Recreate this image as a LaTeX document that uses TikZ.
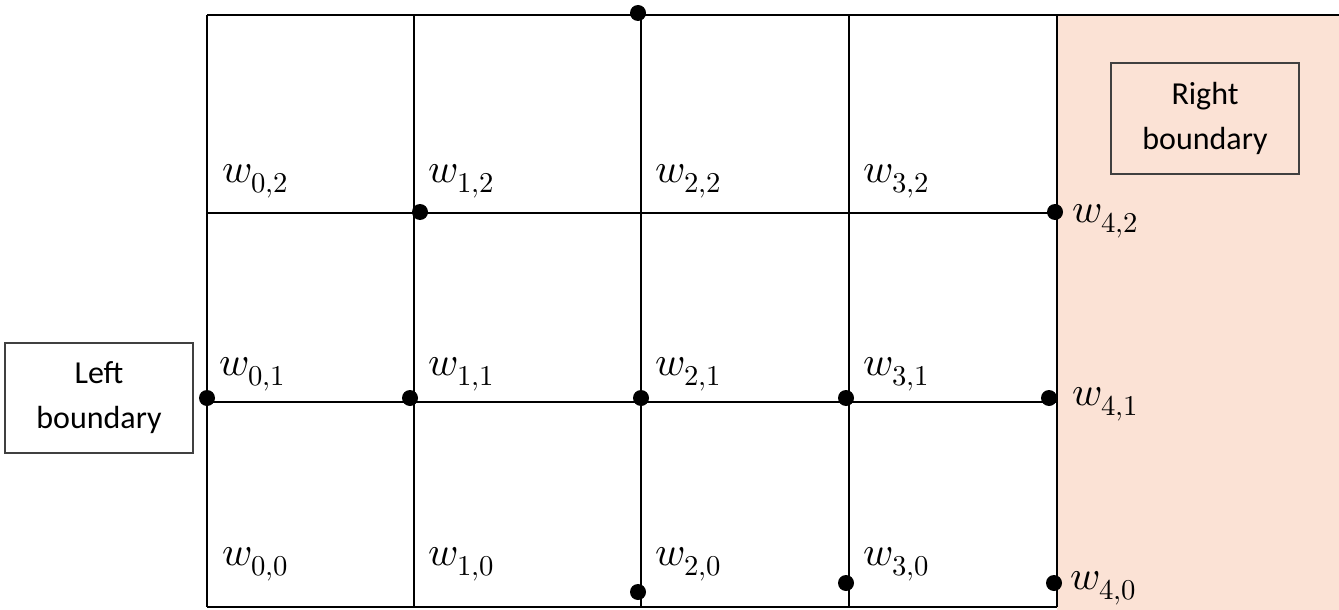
\documentclass[tikz,border=0pt]{standalone}
\usepackage{fontspec}
\usepackage{unicode-math}
\setsansfont{Carlito}
\definecolor{rbshade}{HTML}{FBE2D5}
\definecolor{boxline}{HTML}{404040}
\tikzset{
  grid line/.style={line width=2.2pt, black},
  dot/.style={circle, fill=black, inner sep=0pt, minimum size=16pt},
  wlabel/.style={anchor=base west, inner sep=0pt, font=\fontsize{41}{48}\selectfont},
  bbox/.style={draw=boxline, line width=1.2pt, align=center, font=\sffamily\fontsize{32}{45}\selectfont, inner sep=0pt}
}
\begin{document}
\begin{tikzpicture}[x=1pt,y=-1pt]
\useasboundingbox (0,0) rectangle (1339,610);
% shaded right region
\fill[rbshade] (1057,15) rectangle (1339,610);
% grid
\draw[grid line] (207,15) -- (1339,15);
\draw[grid line] (207,213) -- (1057,213);
\draw[grid line] (207,402) -- (1057,402);
\draw[grid line] (207,607) -- (1057,607);
\foreach \x in {207,414,641,849,1057} \draw[grid line] (\x,15) -- (\x,607);
% boxes
\node[bbox, minimum width=188pt, minimum height=110pt] (left) at (99,398) {Left\\boundary};
\node[bbox, minimum width=188pt, minimum height=111pt] (right) at (1205,118.5) {Right\\boundary};
% dots
\node[dot] (d1) at (638,13) {};
\node[dot] (d2) at (420,212) {};
\node[dot] (d3) at (1055,212) {};
\node[dot] (d4) at (207,398) {};
\node[dot] (d5) at (410,398) {};
\node[dot] (d6) at (641,398) {};
\node[dot] (d7) at (846,398) {};
\node[dot] (d8) at (1049,398) {};
\node[dot] (d9) at (638,592) {};
\node[dot] (d10) at (846,583) {};
\node[dot] (d11) at (1054,583) {};
% labels
\node[wlabel] (w02) at (222,182) {$w_{0,2}$};
\node[wlabel] (w12) at (428,182) {$w_{1,2}$};
\node[wlabel] (w22) at (655,182) {$w_{2,2}$};
\node[wlabel] (w32) at (863,182) {$w_{3,2}$};
\node[wlabel] (w42) at (1072,222) {$w_{4,2}$};
\node[wlabel] (w01) at (219,375) {$w_{0,1}$};
\node[wlabel] (w11) at (428,375) {$w_{1,1}$};
\node[wlabel] (w21) at (655,375) {$w_{2,1}$};
\node[wlabel] (w31) at (863,375) {$w_{3,1}$};
\node[wlabel] (w41) at (1072,405) {$w_{4,1}$};
\node[wlabel] (w00) at (222,565) {$w_{0,0}$};
\node[wlabel] (w10) at (428,565) {$w_{1,0}$};
\node[wlabel] (w20) at (655,565) {$w_{2,0}$};
\node[wlabel] (w30) at (863,565) {$w_{3,0}$};
\node[wlabel] (w40) at (1070,589) {$w_{4,0}$};
\end{tikzpicture}
\end{document}
